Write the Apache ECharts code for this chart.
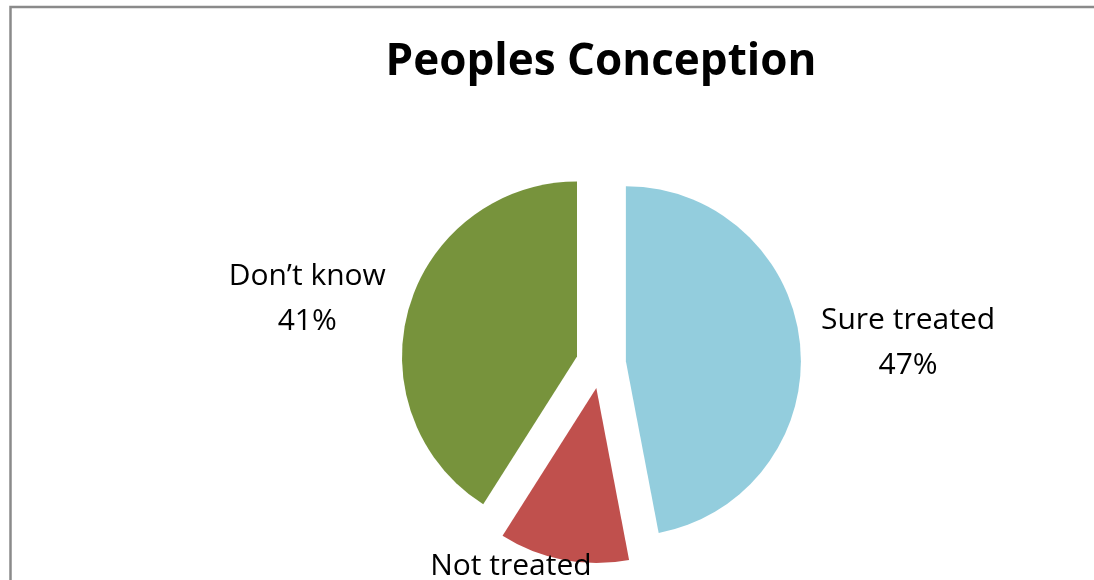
<!DOCTYPE html>
<html>
<head>
<meta charset="utf-8">
<script src="https://cdn.jsdelivr.net/npm/echarts@6/dist/echarts.min.js"></script>
<style>
  html, body { margin: 0; padding: 0; background: #fff; }
  #main { width: 1094px; height: 580px; }
</style>
</head>
<body>
<div id="main"></div>
<script>
var categories = ['Sure treated', 'Not treated', 'Don\u2019t know'];
var values = [47, 12, 41];
var colors = ['#93CDDD', '#C0504D', '#77933C'];

var chartDom = document.getElementById('main');
var myChart = echarts.init(chartDom);

// hidden label lines, only used to push each label to its place
var lineLengths = [[15, 88], [30, 42], [33, 65]];

var option;
option = {
  backgroundColor: '#fff',
  animation: false,
  graphic: [
    {
      type: 'polyline',
      shape: { points: [[10.5, 580], [10.5, 7], [1094, 7]] },
      style: { stroke: '#8a8a8a', lineWidth: 2.5, fill: null },
      silent: true
    },
    {
      type: 'text',
      x: 601,
      y: 62,
      style: {
        text: 'Peoples Conception',
        font: 'bold 44px "Open Sans"',
        fill: '#000',
        textAlign: 'center',
        textVerticalAlign: 'middle'
      }
    }
  ],
  series: [
    {
      type: 'pie',
      center: [601, 363.5],
      radius: 175,
      startAngle: 90,
      clockwise: true,
      selectedMode: 'multiple',
      selectedOffset: 25,
      avoidLabelOverlap: false,
      emphasis: { disabled: true },
      label: {
        show: true,
        position: 'outside',
        formatter: '{b}\n{d}%',
        fontFamily: 'Open Sans',
        fontSize: 30,
        lineHeight: 45,
        color: '#000'
      },
      labelLine: { show: false },
      labelLayout: function () {
        return { align: 'center' };
      },
      data: categories.map(function (name, i) {
        return {
          name: name,
          value: values[i],
          selected: true,
          itemStyle: { color: colors[i] },
          select: { itemStyle: { color: colors[i] } },
          labelLine: { show: false, length: lineLengths[i][0], length2: lineLengths[i][1] }
        };
      })
    }
  ]
};

option && myChart.setOption(option);
</script>
</body>
</html>
